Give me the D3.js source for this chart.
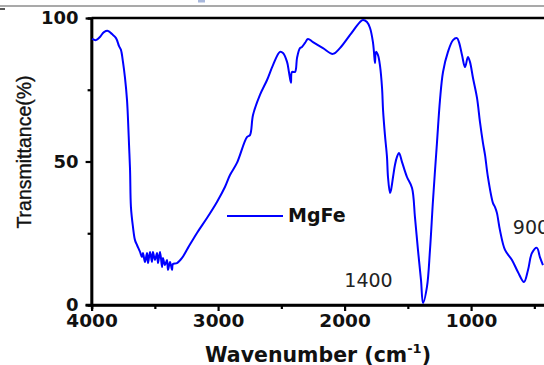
<!DOCTYPE html>
<html>
<head>
<meta charset="utf-8">
<script src="https://cdn.jsdelivr.net/npm/d3@7"></script>
<style>
  body { margin: 0; background: #fff; }
  svg { display: block; }
</style>
</head>
<body>
<script>
// FTIR spectrum, values
const wavenumber = [3997, 3965, 3934, 3902, 3870, 3839, 3807, 3783, 3768, 3752, 3736, 3720, 3712, 3704, 3696, 3689, 3673, 3657, 3641,
  3617, 3602, 3594, 3578, 3562, 3554, 3538, 3523, 3515, 3499, 3483, 3475, 3459, 3443, 3436, 3420, 3404, 3396, 3380, 3364, 3357,
  3325, 3285, 3238, 3167, 3088, 3009, 2946, 2906, 2851, 2772, 2748, 2724, 2669, 2613, 2566, 2511, 2487, 2455, 2440, 2424, 2416,
  2392, 2376, 2353, 2337, 2313, 2290, 2250, 2171, 2092, 2037, 1957, 1878, 1855, 1823, 1799, 1776, 1768, 1760, 1752, 1736, 1720,
  1704, 1696, 1681, 1665, 1657, 1641, 1633, 1617, 1602, 1586, 1570, 1546, 1507, 1467, 1444, 1420, 1396, 1380, 1349, 1325, 1301,
  1270, 1246, 1222, 1183, 1143, 1112, 1096, 1072, 1048, 1025, 1009, 985, 953, 930, 906, 890, 867, 827, 811, 796, 772, 732, 677,
  630, 582, 550, 519, 480, 456, 432];
const transmittance = [92.7, 92.3, 93.4, 95.1, 95.5, 94.4, 93.0, 90.2, 88.9, 84.7, 79.1, 71.4, 64.5, 55.7, 47.0, 34.1, 27.2, 22.6, 20.9,
  18.5, 16.7, 18.1, 15.0, 18.1, 14.6, 18.5, 15.0, 18.5, 15.7, 18.1, 14.6, 18.5, 13.2, 16.4, 13.9, 15.7, 12.2, 15.0, 12.2, 14.3,
  14.6, 16.4, 19.9, 25.1, 30.3, 35.9, 41.1, 45.3, 49.5, 58.5, 59.2, 66.2, 73.2, 78.4, 83.6, 88.2, 87.8, 84.7, 81.2, 77.4, 81.2,
  81.2, 86.1, 89.5, 89.9, 91.3, 92.7, 91.6, 89.5, 87.5, 89.5, 94.1, 98.6, 99.3, 98.6, 96.5, 91.6, 88.2, 84.3, 88.2, 87.1, 83.3,
  75.6, 67.9, 59.2, 51.6, 44.6, 39.0, 40.1, 44.6, 48.8, 51.6, 53.0, 49.8, 44.6, 40.8, 30.7, 19.2, 8.7, 0.7, 6.3, 19.2, 36.6,
  56.4, 71.4, 81.2, 88.2, 92.3, 93.0, 91.6, 87.1, 82.9, 86.4, 84.7, 79.1, 72.1, 63.8, 56.4, 52.3, 44.6, 35.5, 34.1, 32.1, 26.1, 19.2, 15.7,
  11.5, 8.0, 12.2, 18.1, 19.9, 16.7, 13.9];

const xTicks = [4000, 3000, 2000, 1000];
const xMinor = [3500, 2500, 1500, 500];
const yTicks = [0, 50, 100];
const yMinor = [25, 75];
const seriesName = "MgFe";
// band labels: text, wavenumber where the text sits, transmittance of its baseline
const bandLabels = ["1400", "900"];
const bandLabelWn = [1620, 670];
const bandLabelT = [6.3, 24.7];
const bandAnchor = ["end", "start"];

const W = 544, H = 365;
const x0 = 91.6, y0 = 305, yTop = 18;

const svg = d3.select("body").append("svg")
  .attr("width", W)
  .attr("height", H);

const x = d3.scaleLinear().domain([4000, 400]).range([x0, x0 + 3600 * 0.1265]);
const y = d3.scaleLinear().domain([0, 100]).range([y0, yTop]);

// bits left over from the figure above (cropped)
svg.append("line")
  .attr("x1", 0).attr("x2", W)
  .attr("y1", 6).attr("y2", 6)
  .attr("stroke", "#555")
  .attr("stroke-width", 1.2);
svg.append("line")
  .attr("x1", 0).attr("x2", 5)
  .attr("y1", 9).attr("y2", 9)
  .attr("stroke", "#222")
  .attr("stroke-width", 1.5);
svg.append("rect")
  .attr("x", 198).attr("y", 0)
  .attr("width", 7).attr("height", 2.5)
  .attr("fill", "#a8b8dc");

const boldFam = "DejaVu Sans, Verdana, sans-serif";
const plainFam = "Liberation Sans, Arial, sans-serif";

// frame top
svg.append("line")
  .attr("x1", x0).attr("x2", W)
  .attr("y1", yTop).attr("y2", yTop)
  .attr("stroke", "#000")
  .attr("stroke-width", 2.5);

// x axis
const xAxis = svg.append("g")
  .attr("transform", `translate(0,${y0})`)
  .call(d3.axisBottom(x).tickValues(xTicks).tickSize(6).tickPadding(3).tickFormat(d3.format("d")));
xAxis.append("g")
  .call(d3.axisBottom(x).tickValues(xMinor).tickSize(4).tickFormat(""));

// y axis
const yAxis = svg.append("g")
  .attr("transform", `translate(${x0},0)`)
  .call(d3.axisLeft(y).tickValues(yTicks).tickSize(6).tickPadding(7));
yAxis.append("g")
  .call(d3.axisLeft(y).tickValues(yMinor).tickSize(4).tickFormat(""));

svg.selectAll(".domain")
  .attr("stroke", "#000")
  .attr("stroke-width", 2.5);
xAxis.select(".domain").attr("d", `M${x0 - 6},0H${W}`);
yAxis.select(".domain").attr("d", `M0,${y0}V${yTop}`);
svg.selectAll(".tick line")
  .attr("stroke", "#000")
  .attr("stroke-width", 2.2);
svg.selectAll(".tick text")
  .attr("fill", "#111")
  .style("font-family", boldFam)
  .style("font-weight", "bold")
  .style("font-size", "18.5px");
yAxis.selectAll(".tick text").style("font-size", "18px");

// spectrum
const line = d3.line()
  .x((d, i) => x(wavenumber[i]))
  .y(d => y(d))
  .curve(d3.curveCatmullRom.alpha(0.5));

svg.append("path")
  .datum(transmittance)
  .attr("d", line)
  .attr("fill", "none")
  .attr("stroke", "#0000ff")
  .attr("stroke-width", 2)
  .attr("stroke-linejoin", "round");

// legend
svg.append("line")
  .attr("x1", 227).attr("x2", 283)
  .attr("y1", 216).attr("y2", 216)
  .attr("stroke", "#0000ff")
  .attr("stroke-width", 2);
svg.append("text")
  .attr("x", 288).attr("y", 222)
  .attr("fill", "#111")
  .style("font-family", boldFam)
  .style("font-weight", "bold")
  .style("font-size", "19px")
  .text(seriesName);

// band labels
svg.selectAll(".band")
  .data(bandLabels)
  .enter()
  .append("text")
  .attr("class", "band")
  .attr("x", (d, i) => x(bandLabelWn[i]))
  .attr("y", (d, i) => y(bandLabelT[i]))
  .attr("text-anchor", (d, i) => bandAnchor[i])
  .attr("fill", "#222")
  .style("font-family", boldFam)
  .style("font-size", "19px")
  .text(d => d);

// axis titles
const xt = svg.append("text")
  .attr("x", 318).attr("y", 362)
  .attr("text-anchor", "middle")
  .attr("fill", "#111")
  .style("font-family", boldFam)
  .style("font-weight", "bold")
  .style("font-size", "20.5px");
xt.append("tspan").text("Wavenumber (cm");
xt.append("tspan").attr("dy", -9).style("font-size", "13px").text("-1");
xt.append("tspan").attr("dy", 9).text(")");

svg.append("text")
  .attr("transform", "translate(31,152) rotate(-90)")
  .attr("text-anchor", "middle")
  .attr("fill", "#111")
  .attr("stroke", "#111")
  .attr("stroke-width", 0.35)
  .style("font-family", plainFam)
  .style("font-size", "19.5px")
  .text("Transmittance(%)");
</script>
</body>
</html>
